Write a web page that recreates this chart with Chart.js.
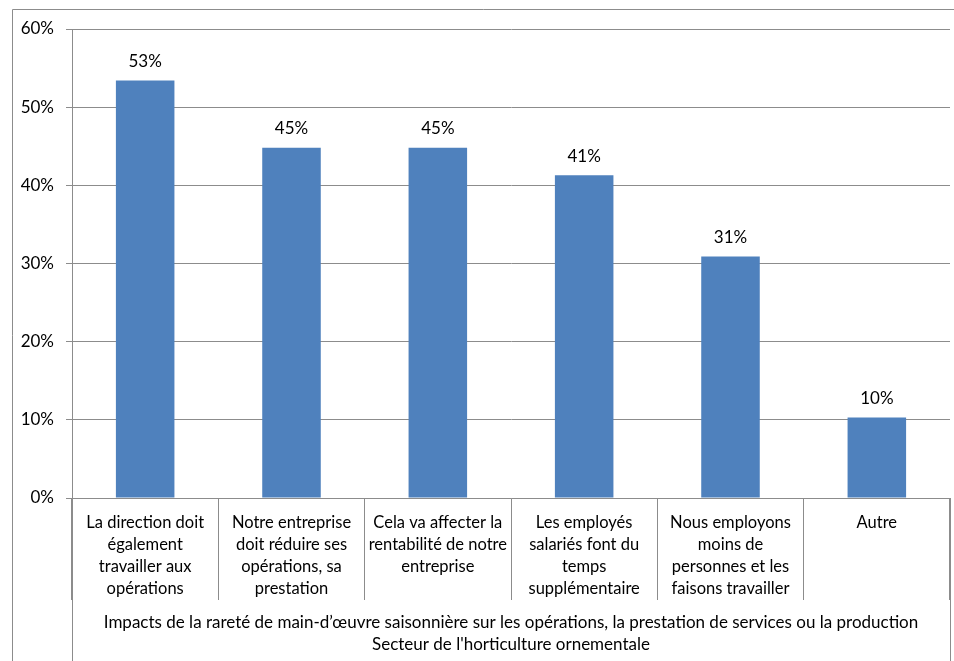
<!DOCTYPE html>
<html>
<head>
<meta charset="utf-8">
<script src="https://cdn.jsdelivr.net/npm/chart.js@4/dist/chart.umd.min.js"></script>
<style>
    html, body { margin: 0; padding: 0; background: #fff; }
    #wrap { position: relative; width: 954px; height: 661px; }
</style>
</head>
<body>
<div id="wrap"><canvas id="impactsChart"></canvas></div>
<script>
// categories (pre-wrapped lines) and shares in percent
const categories = [
    ["La direction doit", "également", "travailler aux", "opérations"],
    ["Notre entreprise", "doit réduire ses", "opérations, sa", "prestation"],
    ["Cela va affecter la", "rentabilité de notre", "entreprise"],
    ["Les employés", "salariés font du", "temps", "supplémentaire"],
    ["Nous employons", "moins de", "personnes et les", "faisons travailler"],
    ["Autre"]
];
const shares = [53.4, 44.8, 44.8, 41.3, 30.9, 10.3];
const yTicks = [0, 10, 20, 30, 40, 50, 60];
const axisTitle = [
    "Impacts de la rareté de main-d’œuvre saisonnière sur les opérations, la prestation de services ou la production",
    "Secteur de l'horticulture ornementale"
];

const FONT = "Lato, 'Open Sans', sans-serif";
const LINE = "#8c8c8c";

// outer frame + long outer dividers under the category labels
const framePlugin = {
    id: "frame",
    beforeDraw(chart) {
        const ctx = chart.ctx;
        const area = chart.chartArea;
        ctx.save();
        ctx.strokeStyle = LINE;
        ctx.lineWidth = 1;
        ctx.beginPath();
        ctx.moveTo(12.5, chart.height);
        ctx.lineTo(12.5, 9.5);
        ctx.lineTo(chart.width, 9.5);
        ctx.stroke();
        ctx.beginPath();
        [area.left, area.right].forEach(x => {
            const px = Math.round(x) + 0.5;
            ctx.moveTo(px, area.bottom);
            ctx.lineTo(px, chart.height);
        });
        ctx.stroke();
        ctx.restore();
    }
};

// value labels above the bars
const valueLabels = {
    id: "valueLabels",
    afterDatasetsDraw(chart) {
        const ctx = chart.ctx;
        const meta = chart.getDatasetMeta(0);
        ctx.save();
        ctx.font = "17px " + FONT;
        ctx.fillStyle = "#000";
        ctx.textAlign = "center";
        ctx.textBaseline = "middle";
        meta.data.forEach((bar, i) => {
            ctx.fillText(Math.round(shares[i]) + "%", bar.x, bar.y - 19);
        });
        ctx.restore();
    }
};

new Chart(document.getElementById("impactsChart"), {
    type: "bar",
    data: {
        labels: categories,
        datasets: [{
            data: shares,
            backgroundColor: "#4f81bd",
            borderWidth: 0,
            categoryPercentage: 1,
            barPercentage: 0.4
        }]
    },
    options: {
        responsive: true,
        maintainAspectRatio: false,
        animation: false,
        events: [],
        layout: { padding: { top: 29, right: 4, left: 0, bottom: 0 } },
        plugins: {
            legend: { display: false },
            tooltip: { enabled: false }
        },
        scales: {
            x: {
                grid: {
                    offset: true,
                    drawOnChartArea: false,
                    drawTicks: true,
                    tickLength: 102,
                    color: LINE
                },
                border: { color: LINE },
                ticks: {
                    autoSkip: false,
                    maxRotation: 0,
                    minRotation: 0,
                    padding: -88,
                    color: "#000",
                    font: { family: FONT, size: 16.5, lineHeight: 1.32 }
                },
                title: {
                    display: true,
                    text: axisTitle,
                    color: "#000",
                    padding: { top: 0, bottom: 5 },
                    font: { family: FONT, size: 17, lineHeight: 1.3 }
                },
                afterFit(scale) { scale.height = 163; }
            },
            y: {
                min: 0,
                max: 60,
                afterBuildTicks(scale) {
                    scale.ticks = yTicks.map(v => ({ value: v }));
                },
                grid: {
                    color: LINE,
                    tickLength: 6
                },
                border: { color: LINE },
                ticks: {
                    padding: 12,
                    color: "#000",
                    font: { family: FONT, size: 17 },
                    callback: v => v + "%"
                },
                afterFit(scale) { scale.width = 72; }
            }
        }
    },
    plugins: [framePlugin, valueLabels]
});
</script>
</body>
</html>
